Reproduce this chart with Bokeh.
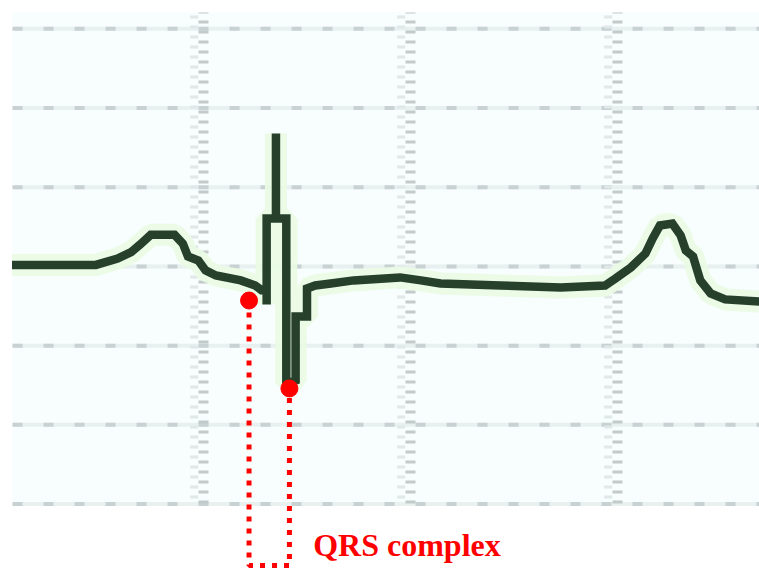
from bokeh.plotting import figure
from bokeh.models import Range1d
from bokeh.core.properties import value
from bokeh.embed import file_html
from bokeh.resources import INLINE

# ECG trace: time (ms) and amplitude (mV)
t_ms = [15, 96, 117, 130, 139, 149, 172, 180, 185, 195, 202, 212, 236, 250,
        256, 261, 261, 261, 270, 270, 270, 280, 280, 289, 289, 300, 300, 308,
        323, 345, 390, 410, 429, 487, 545, 588, 598, 613, 627, 634, 641, 653,
        661, 666, 673, 680, 690, 704, 737]
v_mv = [0.01, 0.01, 0.05, 0.09, 0.14, 0.20, 0.20, 0.145, 0.063, 0.038, -0.025,
        -0.057, -0.088, -0.12, -0.15, -0.15, -0.24, 0.303, 0.303, 0.84, 0.303,
        0.303, -0.739, -0.72, -0.316, -0.316, -0.139, -0.12, -0.107, -0.088,
        -0.069, -0.088, -0.107, -0.12, -0.133, -0.12, -0.076, -0.006, 0.082,
        0.177, 0.259, 0.271, 0.196, 0.101, 0.063, -0.088, -0.17, -0.208, -0.221]

# QRS markers
qrs_t = [244, 283]
qrs_v = [-0.215, -0.77]
bracket_bottom = -1.888
label_text = "QRS complex"
label_t = 306
label_v = -1.761

# ECG paper grid
major_v = [-1.5, -1.0, -0.5, 0.0, 0.5, 1.0, 1.5]
major_t = [200, 400, 600]
grid_t0, grid_t1 = 15.5, 737.2
grid_v0, grid_v1 = -1.496, 1.604

p = figure(width=759, height=569, x_range=Range1d(3.86, 737.2),
           y_range=Range1d(-1.913, 1.679), output_backend="svg",
           toolbar_location=None, x_axis_type=None, y_axis_type=None,
           min_border=0, min_border_left=0, min_border_right=0,
           min_border_top=0, min_border_bottom=0)
p.grid.visible = False
p.outline_line_color = None
p.background_fill_color = "white"
p.border_fill_color = "white"

# faintly tinted paper area
p.quad(left=[grid_t0], right=[grid_t1], bottom=[grid_v0], top=[grid_v1],
       fill_color="#f8fdfd", line_color=None)
# major horizontal lines (faint base + dashes)
p.segment(x0=[grid_t0] * len(major_v), x1=[grid_t1] * len(major_v),
          y0=major_v, y1=major_v, line_color="#e8f0f0", line_width=4)
p.segment(x0=[grid_t0] * len(major_v), x1=[grid_t1] * len(major_v),
          y0=major_v, y1=major_v, line_color="#c8d2d2", line_width=4,
          line_dash="10 21")
# major vertical lines as tick-like columns
p.segment(x0=[t - 9 for t in major_t], x1=[t - 9 for t in major_t],
          y0=[grid_v0] * 3, y1=[grid_v1] * 3, line_color="#e0e8e8",
          line_width=8, line_dash="3 7", line_dash_offset=5)
p.segment(x0=major_t, x1=major_t, y0=[grid_v0] * 3, y1=[grid_v1] * 3,
          line_color="#c2caca", line_width=10, line_dash="3 7")

# green halo and trace
p.line(t_ms, v_mv, line_color="#e9fbe3", line_width=22, line_alpha=0.9)
p.line(t_ms, v_mv, line_color="#26402c", line_width=8.5, line_join="miter")

# QRS bracket
p.line([qrs_t[0], qrs_t[0], qrs_t[1], qrs_t[1]],
       [qrs_v[0], bracket_bottom, bracket_bottom, qrs_v[1]],
       line_color="#ff0000", line_width=5, line_dash="5 7")
p.scatter(qrs_t, qrs_v, size=17, color="#ff0000")

p.text(x=[label_t], y=[label_v], text=[label_text], text_color="#ff0000",
       text_font=value("Liberation Serif"), text_font_style="bold",
       text_font_size="32px", text_baseline="alphabetic", text_align="left")

open("out.html", "w").write(file_html(p, INLINE))
